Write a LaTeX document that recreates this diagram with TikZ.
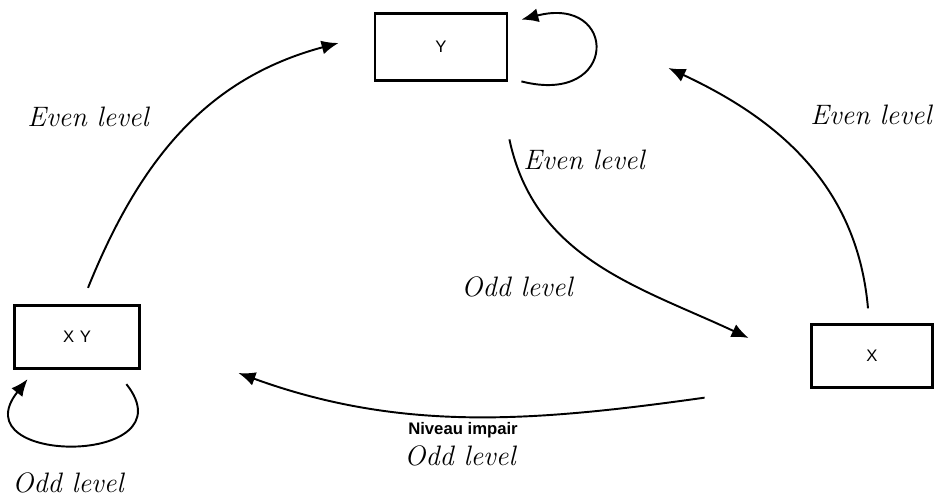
\documentclass[tikz,border=0pt]{standalone}
\usepackage{fontspec}
\setsansfont{Liberation Sans}
\usetikzlibrary{arrows.meta}

\begin{document}
\begin{tikzpicture}[boxStyle/.style={rectangle, draw, line width=1.6pt, minimum width=2.5cm, minimum height=1.25cm, font=\sffamily\fontsize{9.5}{11}\selectfont},
                    arcStyle/.style={line width=1.1pt, -{Latex[length=3.4mm, width=2.8mm]}},
                    handStyle/.style={font=\itshape\fontsize{16}{18}\selectfont},
                    printStyle/.style={font=\sffamily\bfseries\fontsize{9.5}{11}\selectfont}]
                    \useasboundingbox (0, 0) rectangle (18.7, 9.96);

                    \node[boxStyle, minimum width=2.64cm, minimum height=1.34cm] (Y)  at ( 8.82, 9.02) {Y};
                    \node[boxStyle]                                               (XY) at ( 1.54, 3.22) {X\,\,Y};
                    \node[boxStyle, minimum width=2.42cm]                         (X)  at (17.44, 2.84) {X};

                    \draw[arcStyle] ([xshift=0.22cm, yshift=0.33cm]XY.north) to[out=68, in=195] ([xshift=-0.7cm, yshift=0.08cm]Y.west);
                    \draw[arcStyle] ([xshift=0.26cm, yshift=0.01cm]Y.south east) .. controls +(1.95, -0.5) and +(1.95, 0.5) .. ([xshift=0.26cm, yshift=-0.15cm]Y.north east);
                    \draw[arcStyle] ([xshift=0.02cm, yshift=-1.15cm]Y.south east) to[out=-78, in=155] ([xshift=-1.23cm, yshift=0.36cm]X.west);
                    \draw[arcStyle] ([xshift=-0.08cm, yshift=0.3cm]X.north) to[out=95, in=-25] ([xshift=3.2cm, yshift=-0.42cm]Y.east);
                    \draw[arcStyle] ([xshift=-2.11cm, yshift=-0.18cm]X.south west) to[out=188, in=-20, looseness=0.95] ([xshift=1.95cm, yshift=-0.72cm]XY.east);
                    \draw[arcStyle] ([xshift=-0.29cm, yshift=-0.29cm]XY.south east) .. controls +(1.3, -1.64) and +(-1.38, -1.74) .. ([xshift=0.29cm, yshift=-0.19cm]XY.south west);

                    \node[handStyle]  (evenA) at ( 1.76, 7.62) {Even level};
                    \node[handStyle]  (evenB) at (11.68, 6.76) {Even level};
                    \node[handStyle]  (evenC) at (17.42, 7.66) {Even level};
                    \node[handStyle]  (oddA)  at (10.34, 4.22) {Odd level};
                    \node[printStyle] (impair) at ( 9.26, 1.36) {Niveau impair};
                    \node[handStyle]  (oddB)  at ( 9.20, 0.84) {Odd level};
                    \node[handStyle]  (oddC)  at ( 1.36, 0.30) {Odd level};
                \end{tikzpicture}
\end{document}
